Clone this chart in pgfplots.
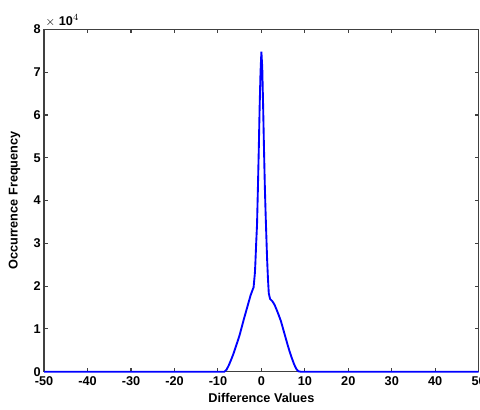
\documentclass[border=0pt]{standalone}
\usepackage{pgfplots}
\pgfplotsset{compat=1.18}
\usetikzlibrary{calc}
\usepackage{fontspec}
\setmainfont{Liberation Sans}
\newcommand{\lblfont}{\fontsize{9.5}{11}\selectfont\bfseries}
\begin{document}
\begin{tikzpicture}
\begin{axis}[
    scale only axis, width=325pt, height=256pt,
    xmin=-50, xmax=50, ymin=0, ymax=80000,
    xtick={-50,-40,...,50}, ytick={0,10000,...,80000},
    xticklabels={-50,-40,-30,-20,-10,0,10,20,30,40,50},
    yticklabels={0,1,2,3,4,5,6,7,8},
    scaled y ticks=false,
    tick align=inside, major tick length=3pt,
    axis line style={black!75, line width=1.1pt},
    tick style={black!75, line width=0.8pt},
    tick label style={font=\lblfont},
    xlabel={Difference Values}, ylabel={Occurrence Frequency},
    label style={font=\lblfont},
    xlabel style={at={(axis description cs:0.5,0)}, anchor=center, yshift=-20pt},
    ylabel style={at={(axis description cs:-0.068,0.5)}, anchor=center},
    xticklabel style={yshift=0pt}, yticklabel style={xshift=1pt},
    clip=false,
]
\addplot[blue, line width=1.4pt] coordinates {
(-50,0) (-40,0) (-30,0) (-20,0) (-10,0) (-8.5,0)
(-8,500) (-7.5,1500) (-7,2700) (-6.5,4000) (-6,5500) (-5.5,7000)
(-5,8600) (-4.5,10500) (-4,12400) (-3.5,14200) (-3,16000) (-2.5,17800)
(-2,19200) (-1.8,19700) (-1.5,23000) (-1.4,25000) (-1.2,30000) (-1,34500)
(-0.8,43000) (-0.6,52000) (-0.4,62000) (-0.2,70000) (0,74800)
(0.2,71000) (0.4,62000) (0.6,52000) (0.8,43000) (1,36000) (1.3,26700)
(1.5,22000) (1.7,18300) (2,17000) (2.5,16500) (3,15700) (3.5,14500)
(4,13200) (4.5,11800) (5,10000) (5.5,8200) (6,6400) (6.5,4700)
(7,3200) (7.5,1800) (8,700) (8.5,100) (9,0) (10,0) (20,0) (30,0) (40,0) (50,0)
};
\node[anchor=south west, inner sep=1pt, yshift=1pt, font=\lblfont] at (rel axis cs:0,1) {$\times$ 10$^{4}$};
\end{axis}
\pgfresetboundingbox
\path[use as bounding box] ($(current axis.south west)+(-33pt,-28.5pt)$) rectangle ($(current axis.north east)+(1pt,22pt)$);
\end{tikzpicture}
\end{document}
